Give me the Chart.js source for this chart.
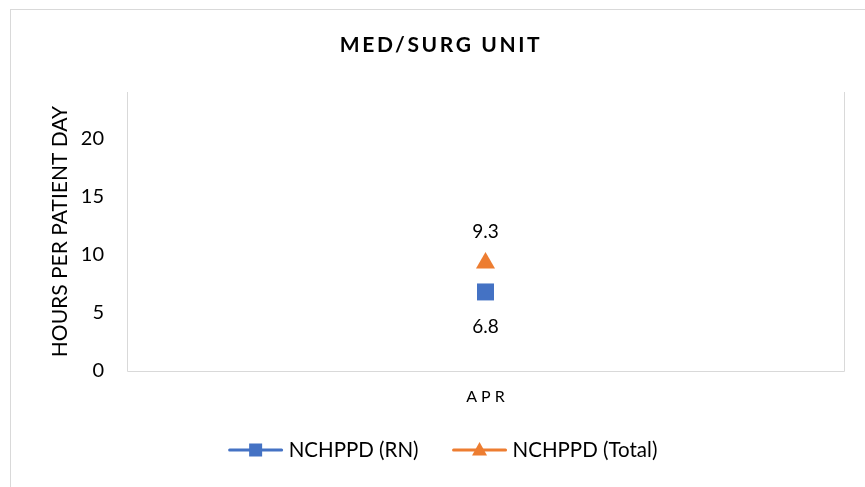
<!DOCTYPE html>
<html>
<head>
<meta charset="utf-8">
<script src="https://cdn.jsdelivr.net/npm/chart.js@4.4.1/dist/chart.umd.min.js"></script>
<style>
  html, body { margin: 0; padding: 0; background: #fff; }
  #wrap { position: relative; width: 865px; height: 487px; overflow: hidden; }
  #frame { position: absolute; left: 10px; top: 9px; width: 900px; height: 520px; border: 1px solid #d9d9d9; box-sizing: border-box; }
  canvas { position: absolute; left: 0; top: 0; }
</style>
</head>
<body>
<div id="wrap">
  <div id="frame"></div>
  <canvas id="c" width="865" height="487"></canvas>
</div>
<script>
const chartTitle = 'MED/SURG UNIT';
const yAxisTitle = 'HOURS PER PATIENT DAY';
const categories = ['APR'];
const seriesNames = ['NCHPPD (RN)', 'NCHPPD (Total)'];
const rnValues = [6.8];
const totalValues = [9.3];
const yTicks = [0, 5, 10, 15, 20];
const yMax = 24;

const FONT = 'Lato, "Open Sans", sans-serif';
const BLUE = '#4472C4';
const ORANGE = '#ED7D31';
const TEXT = '#000000';

const customDraw = {
  id: 'customDraw',
  afterDraw(chart) {
    const ctx = chart.ctx;
    const a = chart.chartArea;
    // plot area border (left, bottom, right)
    ctx.save();
    ctx.strokeStyle = '#d9d9d9';
    ctx.lineWidth = 1;
    ctx.beginPath();
    ctx.moveTo(a.left + 0.5, a.top);
    ctx.lineTo(a.left + 0.5, a.bottom + 0.5);
    ctx.lineTo(a.right + 0.5, a.bottom + 0.5);
    ctx.lineTo(a.right + 0.5, a.top);
    ctx.stroke();
    ctx.restore();

    // title
    ctx.save();
    ctx.fillStyle = TEXT;
    ctx.font = 'bold 21px ' + FONT;
    ctx.letterSpacing = '2.6px';
    ctx.textAlign = 'center';
    ctx.textBaseline = 'middle';
    ctx.fillText(chartTitle, 441, 45);
    ctx.restore();

    // y axis title
    ctx.save();
    ctx.fillStyle = TEXT;
    ctx.font = '21px ' + FONT;
    ctx.translate(60, (a.top + a.bottom) / 2);
    ctx.rotate(-Math.PI / 2);
    ctx.textAlign = 'center';
    ctx.textBaseline = 'middle';
    ctx.fillText(yAxisTitle, 0, 0);
    ctx.restore();

    // x category labels
    const xs = chart.scales.x;
    ctx.save();
    ctx.fillStyle = TEXT;
    ctx.font = '16px ' + FONT;
    ctx.letterSpacing = '4px';
    ctx.textAlign = 'center';
    ctx.textBaseline = 'middle';
    categories.forEach((c, i) => {
      ctx.fillText(c, xs.getPixelForValue(i) + 2, 397);
    });
    ctx.restore();

    // data labels
    const offsets = [35, -31];
    chart.data.datasets.forEach((ds, di) => {
      const meta = chart.getDatasetMeta(di);
      meta.data.forEach((pt, i) => {
        ctx.save();
        ctx.fillStyle = TEXT;
        ctx.font = '19px ' + FONT;
        ctx.textAlign = 'center';
        ctx.textBaseline = 'middle';
        ctx.fillText(ds.data[i].toFixed(1), pt.x, pt.y + offsets[di]);
        ctx.restore();
      });
    });

    // legend
    ctx.save();
    ctx.font = '20.5px ' + FONT;
    const lineLen = 54, gapText = 6, gapItem = 34;
    const widths = chart.data.datasets.map(d => ctx.measureText(d.label).width);
    let total = 0;
    widths.forEach((w, i) => { total += lineLen + gapText + w + (i ? gapItem : 0); });
    let x = 443 - total / 2;
    const ly = 450;
    chart.data.datasets.forEach((ds, i) => {
      ctx.strokeStyle = ds.borderColor;
      ctx.lineWidth = 3;
      ctx.lineCap = 'round';
      ctx.beginPath();
      ctx.moveTo(x + 1, ly);
      ctx.lineTo(x + lineLen - 1, ly);
      ctx.stroke();
      ctx.fillStyle = ds.backgroundColor;
      const cx = x + lineLen / 2;
      if (ds.pointStyle === 'rect') {
        ctx.fillRect(cx - 6.5, ly - 6.5, 13, 13);
      } else {
        ctx.beginPath();
        ctx.moveTo(cx, ly - 8);
        ctx.lineTo(cx + 7.5, ly + 5.5);
        ctx.lineTo(cx - 7.5, ly + 5.5);
        ctx.closePath();
        ctx.fill();
      }
      ctx.fillStyle = TEXT;
      ctx.textAlign = 'left';
      ctx.textBaseline = 'middle';
      ctx.fillText(ds.label, x + lineLen + gapText, ly);
      x += lineLen + gapText + widths[i] + gapItem;
    });
    ctx.restore();
  }
};

new Chart(document.getElementById('c'), {
  type: 'line',
  data: {
    labels: categories,
    datasets: [
      {
        label: seriesNames[0],
        data: rnValues,
        borderColor: BLUE,
        backgroundColor: BLUE,
        pointStyle: 'rect',
        pointRadius: 12,
        pointHoverRadius: 12,
        pointBorderWidth: 0,
        showLine: false
      },
      {
        label: seriesNames[1],
        data: totalValues,
        borderColor: ORANGE,
        backgroundColor: ORANGE,
        pointStyle: 'triangle',
        pointRadius: 11,
        pointHoverRadius: 11,
        pointBorderWidth: 0,
        showLine: false
      }
    ]
  },
  options: {
    responsive: false,
    animation: false,
    events: [],
    layout: { padding: { left: 0, right: 21, top: 92, bottom: 116 } },
    plugins: {
      legend: { display: false },
      title: { display: false },
      tooltip: { enabled: false }
    },
    scales: {
      x: {
        type: 'category',
        offset: true,
        grid: { display: false, drawTicks: false },
        border: { display: false },
        ticks: { display: false },
        afterFit(s) { s.height = 0; }
      },
      y: {
        min: 0,
        max: yMax,
        grid: { display: false, drawTicks: false },
        border: { display: false },
        afterBuildTicks(s) { s.ticks = yTicks.map(v => ({ value: v })); },
        afterFit(s) { s.width = 127; },
        ticks: {
          padding: 23,
          color: TEXT,
          font: { family: FONT, size: 20 }
        }
      }
    }
  },
  plugins: [customDraw]
});
</script>
</body>
</html>
